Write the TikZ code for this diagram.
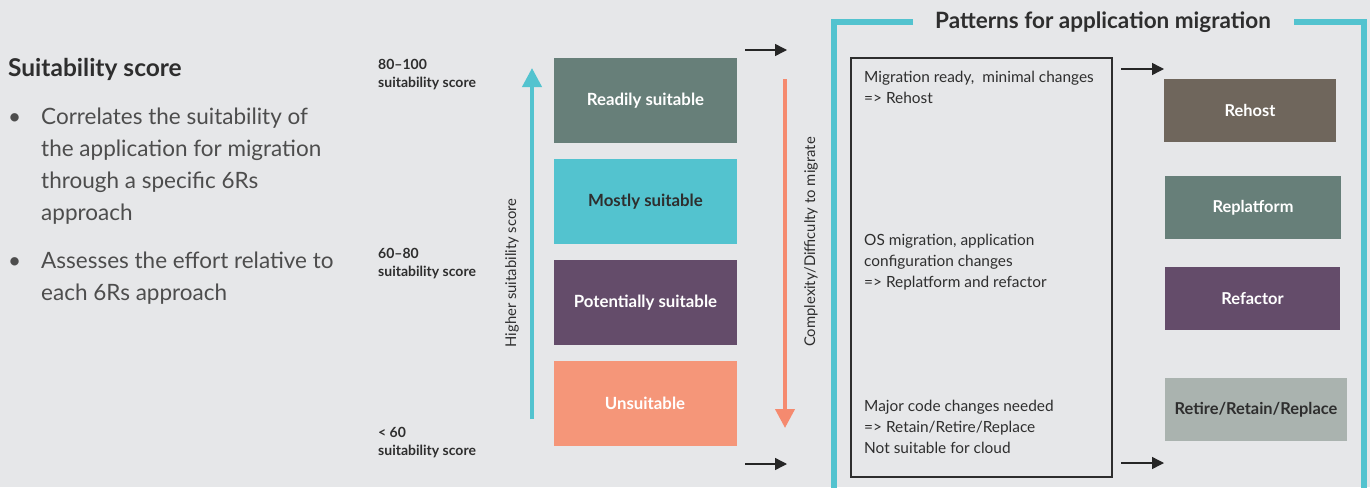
\documentclass[tikz,border=0pt]{standalone}
\usepackage{fontspec}
\setmainfont{Lato}
\usepackage{tikz}
\usetikzlibrary{arrows.meta}
\definecolor{bgGray}{HTML}{E6E7E9}
\definecolor{hpeTeal}{HTML}{53C3CF}
\definecolor{sageGreen}{HTML}{677F79}
\definecolor{plumPurple}{HTML}{644C6A}
\definecolor{salmonBox}{HTML}{F59679}
\definecolor{salmonArrow}{HTML}{F58A6F}
\definecolor{taupeBox}{HTML}{6F665C}
\definecolor{stoneGray}{HTML}{AAB3AF}
\definecolor{inkGray}{HTML}{2E2E2E}
\tikzstyle{scoreBox} = [shape=rectangle, text=white, align=center, inner sep=0pt,
	minimum width=183pt, minimum height=85pt, font=\fontsize{16.8}{20}\selectfont\bfseries]
\tikzstyle{patternBox} = [shape=rectangle, text=white, align=center, inner sep=0pt,
	minimum height=63pt, font=\fontsize{16.4}{19}\selectfont\bfseries]
\tikzstyle{scoreLabel} = [anchor=base west, inner sep=0pt, align=left, text=inkGray,
	font=\fontsize{14}{18}\selectfont\bfseries]
\tikzstyle{noteText} = [anchor=base west, inner sep=0pt, align=left, text=inkGray,
	font=\fontsize{15.4}{21}\selectfont]
\tikzstyle{bulletText} = [anchor=base west, inner sep=0pt, align=left, text=inkGray!85,
	font=\fontsize{22.5}{32}\selectfont]
\tikzstyle{axisText} = [rotate=90, inner sep=0pt, text=inkGray, font=\fontsize{14.8}{17}\selectfont]
\tikzstyle{blackArrow} = [line width=1.4pt, black!85, -{Triangle[length=12pt, width=12pt]}]
\tikzstyle{bigArrow} = [line width=4pt, -{Triangle[length=19pt, width=19pt]}]

\begin{document}
\begin{tikzpicture}[x=1pt, y=-1pt]
  \fill[bgGray] (0,0) rectangle (1370,487);
  \useasboundingbox (0,0) rectangle (1370,487);

  \node[anchor=base west, inner sep=0pt, text=inkGray, font=\fontsize{24.5}{28}\selectfont\bfseries]
  	(scoreTitle) at (8,77) {Suitability score};
  \node[bulletText] (bulletOne) at (8,124) {\textbullet};
  \node[bulletText] (correlatesText) at (41,220) {Correlates the suitability of\\
  	the application for migration\\ through a specific 6Rs\\ approach};
  \node[bulletText] (bulletTwo) at (8,268) {\textbullet};
  \node[bulletText] (assessesText) at (41,300) {Assesses the effort relative to\\
  	each 6Rs approach};

  \node[scoreLabel] (topScore) at (378,88) {80--100\\ suitability score};
  \node[scoreLabel] (midScore) at (378,276) {60--80\\ suitability score};
  \node[scoreLabel] (lowScore) at (378,455) {< 60\\ suitability score};

  \coordinate (higherFoot) at (532,419);
  \coordinate (higherTip) at (532,68);
  \draw[bigArrow, hpeTeal] (higherFoot) -- (higherTip);
  \node[axisText] (higherLabel) at (512,273) {Higher suitability score};

  \node[scoreBox, fill=sageGreen] (readily) at (645.5,100.5) {Readily suitable};
  \node[scoreBox, fill=hpeTeal, text=inkGray] (mostly) at (645.5,201.5) {Mostly suitable};
  \node[scoreBox, fill=plumPurple] (potentially) at (645.5,302.5) {Potentially suitable};
  \node[scoreBox, fill=salmonBox] (unsuitable) at (645,403.5) {Unsuitable};

  \coordinate (complexFoot) at (785,79);
  \coordinate (complexTip) at (785,428);
  \draw[bigArrow, salmonArrow] (complexFoot) -- (complexTip);
  \node[axisText] (complexLabel) at (811,242) {Complexity/Difficulty to migrate};

  \coordinate (leftTopStart) at (745,50);
  \coordinate (leftTopEnd) at (787,50);
  \coordinate (leftLowStart) at (745,464);
  \coordinate (leftLowEnd) at (787,464);
  \draw[blackArrow] (leftTopStart) -- (leftTopEnd);
  \draw[blackArrow] (leftLowStart) -- (leftLowEnd);

  \node[inner sep=0pt, text=inkGray, font=\fontsize{22.5}{26}\selectfont\bfseries]
  	(patternsTitle) at (1103,22) {Patterns for application migration};
  \draw[hpeTeal, line width=6pt] (913,22) -- (834,22) -- (834,495);
  \draw[hpeTeal, line width=6pt] (1294,22) -- (1364,22) -- (1364,495);

  \node[draw=inkGray, line width=1.1pt, minimum width=261pt, minimum height=419pt,
  	inner sep=0pt] (noteFrame) at (981.5,267.5) {};
  \node[noteText] (readyNote) at (864,103) {Migration ready,\ \ minimal changes\\ => Rehost};
  \node[noteText] (osNote) at (864,287) {OS migration, application\\
  	configuration changes\\ => Replatform and refactor};
  \node[noteText] (majorNote) at (864,453) {Major code changes needed\\
  	=> Retain/Retire/Replace\\ Not suitable for cloud};

  \coordinate (rightTopStart) at (1121,69);
  \coordinate (rightTopEnd) at (1164,69);
  \coordinate (rightLowStart) at (1121,463);
  \coordinate (rightLowEnd) at (1164,463);
  \draw[blackArrow] (rightTopStart) -- (rightTopEnd);
  \draw[blackArrow] (rightLowStart) -- (rightLowEnd);

  \node[patternBox, fill=taupeBox, minimum width=172pt] (rehost) at (1250,110.5) {Rehost};
  \node[patternBox, fill=sageGreen, minimum width=176pt] (replatform) at (1253,207.5) {Replatform};
  \node[patternBox, fill=plumPurple, minimum width=175pt] (refactor) at (1252.5,298.5) {Refactor};
  \node[patternBox, fill=stoneGray, text=inkGray, minimum width=182pt] (retire) at (1256,409.5) {Retire/Retain/Replace};
\end{tikzpicture}
\end{document}
